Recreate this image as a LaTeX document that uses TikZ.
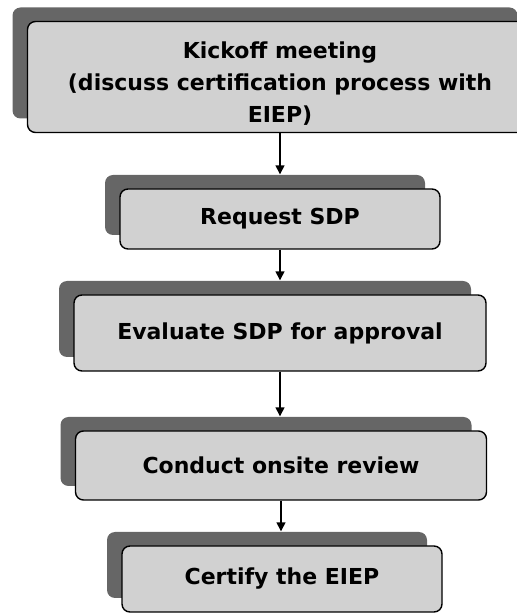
\documentclass[tikz,border=0pt]{standalone}
\usepackage{fontspec}
\setmainfont{DejaVu Sans}
\usetikzlibrary{shadows,arrows.meta,calc}

\tikzset{
    stepbox/.style={draw=black, line width=1.4pt, rounded corners=8pt, fill=black!18,
        align=center, font=\fontsize{22}{32}\selectfont\bfseries,
        drop shadow={shadow xshift=-15pt, shadow yshift=14pt, fill=black!60, opacity=1}},
    flow/.style={line width=1.5pt, -{Triangle[length=9pt,width=9pt]}}
}

\begin{document}
\begin{tikzpicture}[x=1pt,y=1pt]
    \useasboundingbox (0,0) rectangle (517,614);
    \clip (0,0) rectangle (517,614);

    % Process steps
    \node[stepbox, minimum width=505pt, minimum height=111pt] (kick) at (280,537)
        {\rule{0pt}{30pt}Kickoff meeting\\(discuss certification process with\\EIEP)};
    \node[stepbox, minimum width=320pt, minimum height=60pt] (req) at (280,395) {Request SDP};
    \node[stepbox, minimum width=412pt, minimum height=76pt] (eval) at (280,281) {Evaluate SDP for approval};
    \node[stepbox, minimum width=411pt, minimum height=69pt] (onsite) at (281,148.5) {Conduct onsite review};
    \node[stepbox, minimum width=320pt, minimum height=66pt] (cert) at (282,35) {Certify the EIEP};

    % Arrows between the steps
    \foreach \a/\b in {kick/req, req/eval, eval/onsite, onsite/cert} {
        \draw[flow] (\a.south) -- ($(\a.south |- \b.north)+(0,14)$);
    }
\end{tikzpicture}
\end{document}
